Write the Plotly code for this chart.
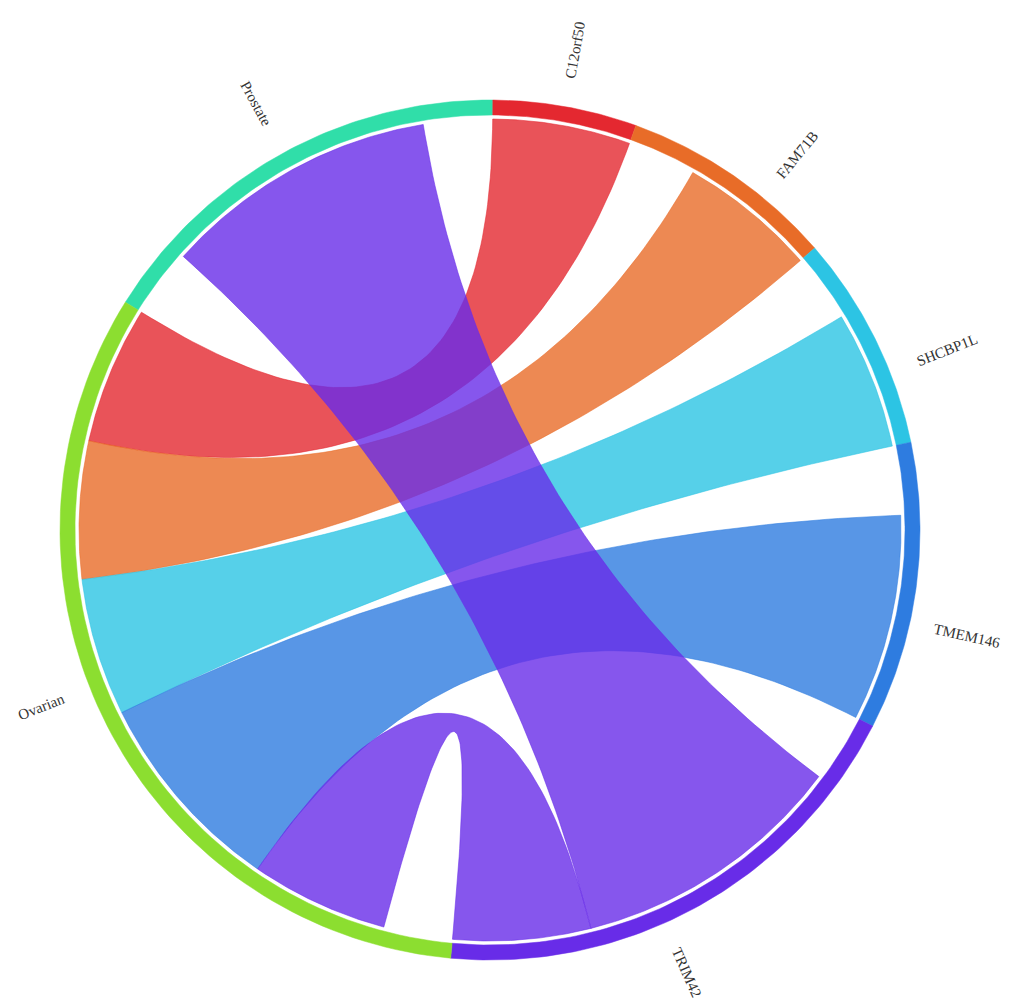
import numpy as np
import plotly.graph_objects as go

# ---------------- data ----------------
nodes = ["Prostate", "C12orf50", "FAM71B", "SHCBP1L", "TMEM146", "TRIM42", "Ovarian"]
node_colors = ["#30dea9", "#e42830", "#e86c28", "#2cc4e4", "#2e7ce0", "#682ce8", "#8cde30"]
node_pad_before = [1, 0, 1, 1, 1, 1, 1]
node_pad_after = [1, 0, 0, 0, 0, 0, 0]

link_source = ["C12orf50", "FAM71B", "SHCBP1L", "TMEM146", "TRIM42", "TRIM42"]
link_target = ["Ovarian", "Ovarian", "Ovarian", "Ovarian", "Prostate", "Ovarian"]
link_value = [2, 2, 2, 3, 4, 2]

# ---------------- geometry ----------------
W, H = 1014, 1007
CX, CY = 490, 530
R_OUT, R_IN, R_CH = 430, 415, 411
START_DEG = 302.0
LABEL_R0 = 457
FONT_SIZE = 15


def pt(r, deg):
    a = np.radians(deg)
    return CX + r * np.sin(a), CY - r * np.cos(a)


def arc(r, d0, d1, n=80):
    t = np.linspace(d0, d1, n)
    a = np.radians(t)
    return list(CX + r * np.sin(a)), list(CY - r * np.cos(a))


def bez(p0, p2, n=80):
    t = np.linspace(0, 1, n)
    x = (1 - t) ** 2 * p0[0] + 2 * (1 - t) * t * CX + t ** 2 * p2[0]
    y = (1 - t) ** 2 * p0[1] + 2 * (1 - t) * t * CY + t ** 2 * p2[1]
    return list(x), list(y)


def rgba(hexc, a):
    h = hexc.lstrip("#")
    return "rgba(%d,%d,%d,%.2f)" % (int(h[0:2], 16), int(h[2:4], 16), int(h[4:6], 16), a)


n = len(nodes)
idx = {name: i for i, name in enumerate(nodes)}
total_units = sum(node_pad_before) + sum(node_pad_after) + 2 * sum(link_value)
unit = 360.0 / total_units

# link ends per node
ends = {i: [] for i in range(n)}
for k, (s, t) in enumerate(zip(link_source, link_target)):
    si, ti = idx[s], idx[t]
    ends[si].append((k, "s", ti))
    ends[ti].append((k, "t", si))

src_span = {}
tgt_span = {}
ring = []
label_deg = []
cur = START_DEG
for i in range(n):
    r0 = cur
    cur += node_pad_before[i] * unit
    c0 = cur
    lst = sorted(ends[i], key=lambda e: -((e[2] - i) % n))
    for k, role, other in lst:
        span = (cur, cur + link_value[k] * unit)
        if role == "s":
            src_span[k] = span
        else:
            tgt_span[k] = span
        cur += link_value[k] * unit
    c1 = cur
    cur += node_pad_after[i] * unit
    ring.append((r0, cur))
    label_deg.append((c0 + c1) / 2.0)

fig = go.Figure()

# outer ring segments
for i in range(n):
    d0, d1 = ring[i]
    xo, yo = arc(R_OUT, d0, d1)
    xi, yi = arc(R_IN, d1, d0)
    fig.add_trace(go.Scatter(
        x=xo + xi + [xo[0]], y=yo + yi + [yo[0]],
        mode="lines", fill="toself", fillcolor=node_colors[i],
        line=dict(color=node_colors[i], width=0.5),
        hoverinfo="skip", showlegend=False))

# ribbons (large cross ribbon drawn last)
order = sorted(range(len(link_value)),
               key=lambda k: 1 if link_target[k] == "Prostate" else 0)
for k in order:
    a0, a1 = src_span[k]
    b0, b1 = tgt_span[k]
    col = node_colors[idx[link_source[k]]]
    x1, y1 = arc(R_CH, a0, a1)
    x2, y2 = bez(pt(R_CH, a1), pt(R_CH, b0))
    x3, y3 = arc(R_CH, b0, b1)
    x4, y4 = bez(pt(R_CH, b1), pt(R_CH, a0))
    fig.add_trace(go.Scatter(
        x=x1 + x2 + x3 + x4, y=y1 + y2 + y3 + y4,
        mode="lines", fill="toself", fillcolor=rgba(col, 0.8),
        line=dict(color=rgba(col, 0.9), width=0.6),
        hoverinfo="skip", showlegend=False))


def text_width(s, size):
    w = 0.0
    for ch in s:
        if ch.isupper():
            w += 0.68
        elif ch.isdigit():
            w += 0.5
        else:
            w += 0.45
    return w * size


annotations = []
for i, name in enumerate(nodes):
    th = label_deg[i] % 360
    L = text_width(name, FONT_SIZE)
    x, y = pt(LABEL_R0 + L / 2.0, th)
    ang = th - 90 if th < 180 else th - 270
    annotations.append(dict(
        x=x, y=y, xref="x", yref="y", text=name, showarrow=False,
        textangle=ang, xanchor="center", yanchor="middle",
        font=dict(family="Liberation Serif, Times New Roman, serif",
                  size=FONT_SIZE, color="#333333")))

fig.update_layout(
    width=W, height=H,
    margin=dict(l=0, r=0, t=0, b=0),
    paper_bgcolor="white", plot_bgcolor="white",
    xaxis=dict(range=[0, W], visible=False, fixedrange=True),
    yaxis=dict(range=[H, 0], visible=False, fixedrange=True),
    annotations=annotations,
    showlegend=False,
)

fig.write_html("out.html")
